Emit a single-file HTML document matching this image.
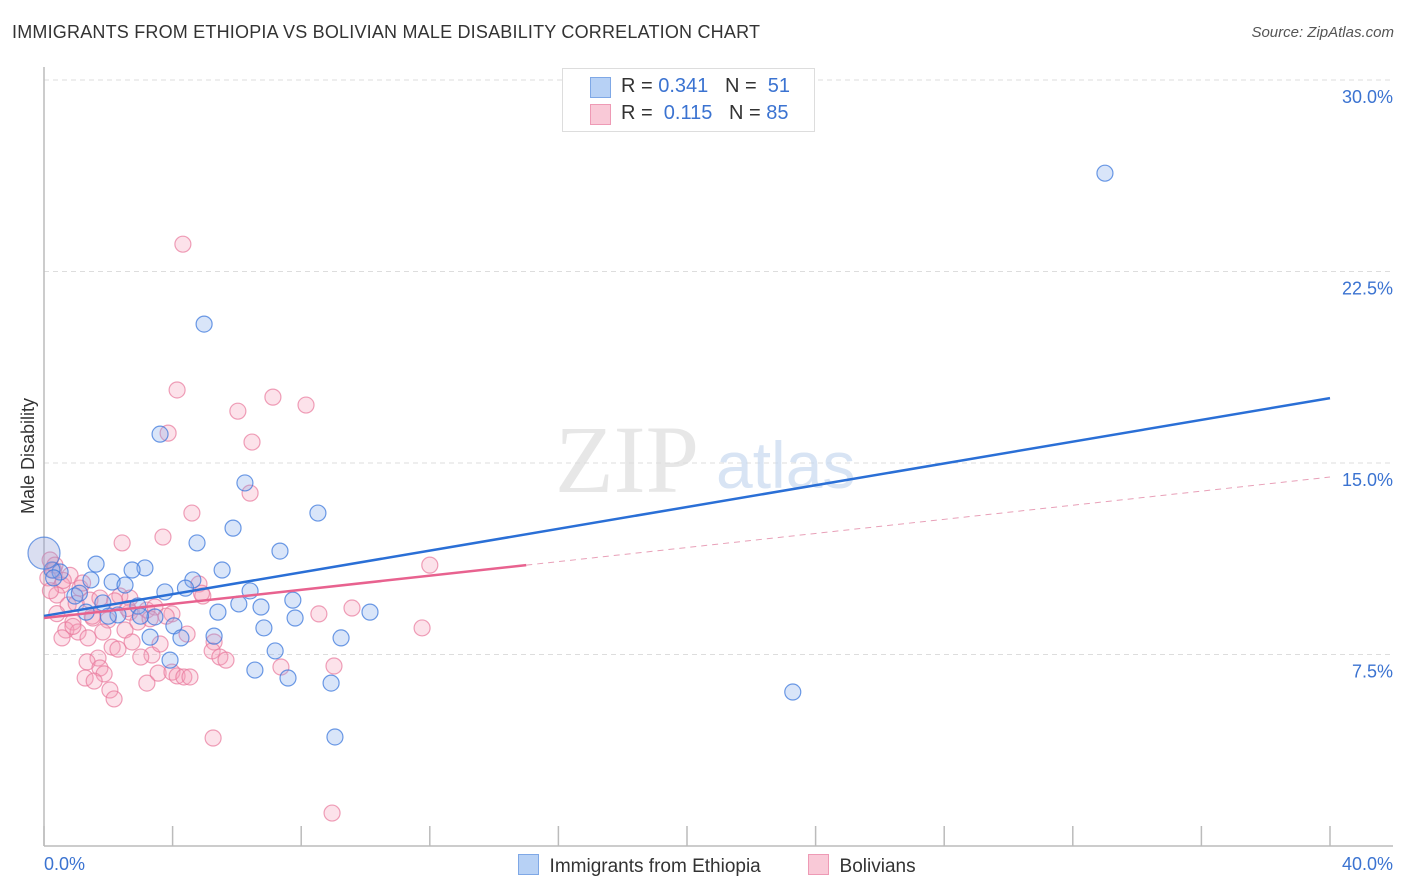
<!DOCTYPE html>
<html><head><meta charset="utf-8"><style>
body{margin:0;background:#fff;font-family:"Liberation Sans",sans-serif;}
#wrap{position:relative;width:1406px;height:892px;overflow:hidden}
.t{position:absolute;white-space:nowrap}
</style></head><body>
<div id="wrap">
<div class="t" style="left:12px;top:22px;font-size:18px;color:#333;letter-spacing:0.2px">IMMIGRANTS FROM ETHIOPIA VS BOLIVIAN MALE DISABILITY CORRELATION CHART</div>
<div class="t" style="right:12px;top:24px;font-size:15px;color:#555;font-style:italic">Source: ZipAtlas.com</div>
<svg id="chart" width="1406" height="892" style="position:absolute;left:0;top:0"></svg>
</div>
<script>
const xTicks=[0,40];
const yTicks=[7.5,15,22.5,30];
const ethX=[33.0,4.98,3.61,6.25,5.88,8.52,4.76,7.34,1.62,3.14,2.74,5.54,1.46,2.12,2.52,4.63,3.76,6.41,0.50,0.25,0.96,1.83,1.31,2.92,2.30,3.45,6.06,6.75,7.74,5.41,7.81,10.14,4.04,3.30,4.26,6.84,5.29,9.24,7.19,3.92,6.56,7.59,8.93,9.05,23.29,0.3,1.1,2.0,3.0,4.4];
const ethY=[26.35,20.44,16.13,14.22,12.45,13.04,11.87,11.55,11.04,10.89,10.81,10.81,10.42,10.34,10.22,10.42,9.95,9.99,10.73,10.81,9.79,9.52,9.16,9.40,9.05,8.97,9.48,9.36,9.63,9.16,8.93,9.16,8.62,8.18,8.15,8.54,8.22,8.15,7.64,7.28,6.89,6.58,6.38,4.27,6.03,10.5,9.9,9.0,9.0,10.1];
const bolX=[4.32,4.14,7.12,8.15,6.03,3.86,6.47,6.41,4.60,3.70,2.43,12.00,0.19,0.34,0.12,0.81,0.56,1.12,0.40,0.75,1.43,1.74,4.82,4.94,2.36,2.67,3.20,3.45,3.98,1.99,2.67,2.92,1.52,0.90,0.68,1.06,1.37,0.56,1.83,2.52,2.12,2.74,3.36,4.45,3.61,5.29,5.23,5.47,5.66,1.68,1.34,2.30,3.01,1.74,1.87,1.28,1.56,2.05,2.18,3.20,3.55,3.98,4.14,4.35,4.54,7.37,9.02,8.55,9.58,11.76,5.26,8.96,0.3,0.6,1.0,1.5,2.6,3.3,0.2,0.9,2.2,3.8,4.9,1.2,0.4];
const bolY=[23.57,17.86,17.58,17.27,17.03,16.17,15.82,13.82,13.04,12.10,11.87,11.00,11.2,11.0,10.5,10.6,10.22,10.1,9.83,9.44,9.63,9.71,10.26,9.79,9.79,9.71,9.24,9.36,9.09,8.85,9.16,8.77,8.93,8.77,8.46,8.38,8.15,8.15,8.38,8.46,7.79,7.99,7.48,8.30,7.91,7.99,7.64,7.40,7.28,7.36,7.21,7.71,7.40,6.97,6.74,6.58,6.46,6.11,5.76,6.38,6.77,6.81,6.66,6.62,6.62,7.01,7.05,9.09,9.32,8.54,4.23,1.29,10.8,10.4,9.5,9.0,9.3,8.9,10.0,8.6,9.6,9.0,9.9,10.3,9.1];
const ethTrend=[9.01,0.2133];
const bolTrend=[8.93,0.138];
const bolSolidEnd=15.0;

const NS="http://www.w3.org/2000/svg";
const svg=document.getElementById('chart');
const X0=44,X1=1330,Y0=846,Y1=80;
const sx=v=>X0+(v-0)/(40-0)*(X1-X0);
const sy=v=>Y0-(v/30)*(Y0-Y1);
function mk(tag,attrs){const e=document.createElementNS(NS,tag);for(const k in attrs)e.setAttribute(k,attrs[k]);svg.appendChild(e);return e;}

// gridlines
yTicks.forEach(v=>{
  const g=mk('line',{x1:X0,x2:1393,y1:sy(v),y2:sy(v),stroke:'#ddd','stroke-dasharray':'5,4','stroke-width':1});
  
  
  const t=mk('text',{x:1393,y:sy(v)+23,'text-anchor':'end','font-size':18,fill:'#3b73d1','font-family':'Liberation Sans, sans-serif'});
  t.textContent=v.toFixed(1)+'%';
  
  
});
// axes
let a=mk('line',{x1:X0,x2:X0,y1:67,y2:Y0,stroke:'#bbb','stroke-width':1.5});


a=mk('line',{x1:X0,x2:1393,y1:Y0,y2:Y0,stroke:'#bbb','stroke-width':1.5});


for(let i=0;i<=10;i++){
  const tk=mk('line',{x1:sx(i*4),x2:sx(i*4),y1:826,y2:Y0,stroke:'#bbb','stroke-width':1.5});
  
  
}
xTicks.forEach((v,i)=>{
  const t=mk('text',{x:i==0?44:1393,y:870,'text-anchor':i==0?'start':'end','font-size':18,fill:'#3b73d1','font-family':'Liberation Sans, sans-serif'});
  t.textContent=v.toFixed(1)+'%';
  
  
});
// watermark
let w=mk('text',{x:555,y:492,'font-size':96,fill:'#ddd','font-family':'Liberation Serif, serif','opacity':0.7});
w.textContent='ZIP';


w=mk('text',{x:716,y:488,'font-size':66,fill:'#c8d9f0','font-family':'Liberation Sans, sans-serif','opacity':0.7});
w.textContent='atlas';


// y label
let yl=mk('text',{x:34,y:456,'font-size':18,fill:'#333','text-anchor':'middle',transform:'rotate(-90 34 456)','font-family':'Liberation Sans, sans-serif'});
yl.textContent='Male Disability';



// points
bolX.forEach((x,i)=>{
  const c=mk('circle',{cx:sx(x),cy:sy(bolY[i]),r:8,fill:'rgba(244,160,185,0.3)',stroke:'rgba(232,120,155,0.7)','stroke-width':1.2});
  
  
});
ethX.forEach((x,i)=>{
  const c=mk('circle',{cx:sx(x),cy:sy(ethY[i]),r:8,fill:'rgba(130,170,235,0.3)',stroke:'rgba(60,120,220,0.75)','stroke-width':1.2});
  
  
});
let big=mk('circle',{cx:sx(0),cy:sy(11.47),r:16,fill:'rgba(150,160,215,0.35)',stroke:'rgba(60,120,220,0.7)','stroke-width':1.2});



// trend lines
let l=mk('line',{x1:sx(0),y1:sy(ethTrend[0]),x2:sx(40),y2:sy(ethTrend[0]+ethTrend[1]*40),stroke:'#2a6fd6','stroke-width':2.5});


l=mk('line',{x1:sx(0),y1:sy(bolTrend[0]),x2:sx(bolSolidEnd),y2:sy(bolTrend[0]+bolTrend[1]*bolSolidEnd),stroke:'#e8628f','stroke-width':2.5});


l=mk('line',{x1:sx(bolSolidEnd),y1:sy(bolTrend[0]+bolTrend[1]*bolSolidEnd),x2:sx(40),y2:sy(bolTrend[0]+bolTrend[1]*40),stroke:'#e8a0b8','stroke-width':1,'stroke-dasharray':'6,5'});


</script>
<div style="position:absolute;left:562px;top:68px;width:251px;height:62px;border:1px solid #ddd;background:#fff;font-size:20px;color:#333">
  <div style="position:absolute;left:27px;top:8px;width:19px;height:19px;background:#b7d1f5;border:1px solid #7fa8e6"></div>
  <div class="t" style="left:58px;top:6px">R = <span style="color:#3b73d1">0.341</span>&nbsp;&nbsp;&nbsp;N = &nbsp;<span style="color:#3b73d1">51</span></div>
  <div style="position:absolute;left:27px;top:35px;width:19px;height:19px;background:#f9c9d7;border:1px solid #ee9ab5"></div>
  <div class="t" style="left:58px;top:33px">R = &nbsp;<span style="color:#3b73d1">0.115</span>&nbsp;&nbsp;&nbsp;N = <span style="color:#3b73d1">85</span></div>
</div>
<div style="position:absolute;left:518px;top:852px;height:24px;font-size:19px;color:#333">
  <div style="position:absolute;left:0;top:2px;white-space:nowrap"><span style="display:inline-block;width:19px;height:19px;background:#b7d1f5;border:1px solid #7fa8e6;vertical-align:-3px"></span>&nbsp; Immigrants from Ethiopia</div>
  <div style="position:absolute;left:290px;top:2px;white-space:nowrap"><span style="display:inline-block;width:19px;height:19px;background:#f9c9d7;border:1px solid #ee9ab5;vertical-align:-3px"></span>&nbsp; Bolivians</div>
</div>
</body></html>
